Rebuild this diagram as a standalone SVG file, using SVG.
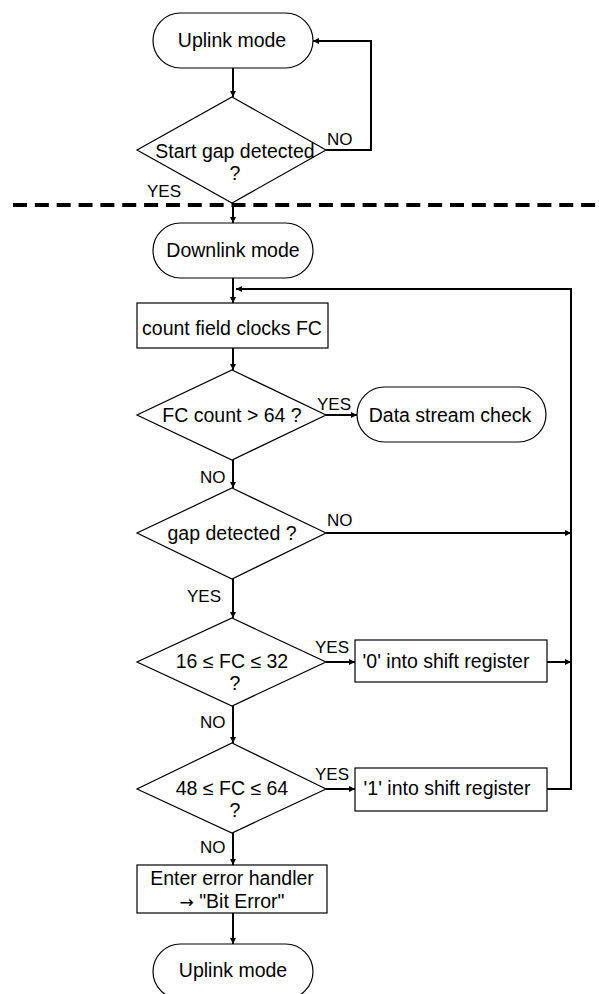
<svg xmlns="http://www.w3.org/2000/svg" width="599" height="994" viewBox="0 0 599 994">
<defs>
<marker id="ah" viewBox="0 0 10 10" refX="10" refY="5" markerWidth="7" markerHeight="6" markerUnits="userSpaceOnUse" orient="auto">
<path d="M0,0 L10,5 L0,10 z" fill="#000"/>
</marker>
</defs>
<style>
.s{fill:#fff;stroke:#000;stroke-width:1.2}
.t{font-family:"Liberation Sans",Arial,sans-serif;font-size:19.5px;fill:#000;text-anchor:middle}
.l{font-family:"Liberation Sans",Arial,sans-serif;font-size:17px;fill:#000}
.c{fill:none;stroke:#000;stroke-width:2}
.a{fill:none;stroke:#000;stroke-width:2;marker-end:url(#ah)}
.ar{font-family:"DejaVu Sans",sans-serif;font-size:17px}
</style>
<rect width="599" height="994" fill="#fff"/>
<line x1="13" y1="205" x2="599" y2="205" stroke="#000" stroke-width="4" stroke-dasharray="14 7.85"/>
<g id="connectors">
<line class="a" x1="233" y1="68" x2="233" y2="97"/>
<polyline class="a" points="326,150 371,150 371,41 313,41"/>
<line class="a" x1="233" y1="203" x2="233" y2="223"/>
<line class="a" x1="233" y1="278" x2="233" y2="303"/>
<polyline class="a" points="571,662 571,289 236,289"/>
<polyline class="c" points="547,789 571,789 571,662"/>
<line class="a" x1="233" y1="348" x2="233" y2="370"/>
<line class="a" x1="326" y1="415" x2="357" y2="415"/>
<line class="a" x1="233" y1="460" x2="233" y2="488"/>
<line class="a" x1="326" y1="533" x2="571" y2="533"/>
<line class="a" x1="233" y1="579" x2="233" y2="618"/>
<line class="a" x1="326" y1="662" x2="355" y2="662"/>
<line class="a" x1="547" y1="662" x2="571" y2="662"/>
<line class="a" x1="233" y1="706" x2="233" y2="743"/>
<line class="a" x1="326" y1="789" x2="355" y2="789"/>
<line class="a" x1="233" y1="833" x2="233" y2="865"/>
<line class="a" x1="233" y1="913" x2="233" y2="944"/>
</g>
<g id="labels">
<text class="l" x="327" y="145">NO</text>
<text class="l" x="147" y="197">YES</text>
<text class="l" x="317" y="410">YES</text>
<text class="l" x="200" y="483">NO</text>
<text class="l" x="327" y="526">NO</text>
<text class="l" x="187" y="602">YES</text>
<text class="l" x="315" y="653">YES</text>
<text class="l" x="200" y="728">NO</text>
<text class="l" x="315" y="780">YES</text>
<text class="l" x="200" y="853">NO</text>
</g>
<g id="uplink1">
<rect class="s" x="153" y="13" width="160" height="55" rx="27.5"/>
<text class="t" x="232" y="47">Uplink mode</text>
</g>
<g id="startgap">
<polygon class="s" points="232,97 326,150 232,203 137,150"/>
<text class="t" x="235" y="158">Start gap detected</text>
<text class="t" x="235" y="180">?</text>
</g>
<g id="downlink">
<rect class="s" x="153" y="223" width="160" height="55" rx="27.5"/>
<text class="t" x="233" y="257">Downlink mode</text>
</g>
<g id="countfc">
<rect class="s" x="137" y="303" width="191" height="45"/>
<text class="t" x="232" y="335">count field clocks FC</text>
</g>
<g id="fccount">
<polygon class="s" points="232,370 326,415 232,460 137,415"/>
<text class="t" x="232" y="422">FC count &gt; 64 ?</text>
</g>
<g id="datastream">
<rect class="s" x="357" y="387" width="189" height="55" rx="27.5"/>
<text class="t" x="450" y="422">Data stream check</text>
</g>
<g id="gapdet">
<polygon class="s" points="232,488 326,533 232,579 137,533"/>
<text class="t" x="232" y="540">gap detected ?</text>
</g>
<g id="d16">
<polygon class="s" points="232,618 326,662 232,706 137,662"/>
<text class="t" x="232" y="668">16 ≤ FC ≤ 32</text>
<text class="t" x="235" y="690">?</text>
</g>
<g id="shift0">
<rect class="s" x="355" y="640" width="192" height="42"/>
<text class="t" x="446" y="668">'0' into shift register</text>
</g>
<g id="d48">
<polygon class="s" points="232,743 326,789 232,833 137,789"/>
<text class="t" x="232" y="795">48 ≤ FC ≤ 64</text>
<text class="t" x="235" y="817">?</text>
</g>
<g id="shift1">
<rect class="s" x="355" y="768" width="192" height="43"/>
<text class="t" x="447" y="795">'1' into shift register</text>
</g>
<g id="error">
<rect class="s" x="137" y="865" width="190" height="48"/>
<text class="t" x="232" y="885">Enter error handler</text>
<text class="t" x="232" y="908"><tspan class="ar">→</tspan> "Bit Error"</text>
</g>
<g id="uplink2">
<rect class="s" x="153" y="944" width="160" height="55" rx="27.5"/>
<text class="t" x="233" y="977">Uplink mode</text>
</g>
</svg>
